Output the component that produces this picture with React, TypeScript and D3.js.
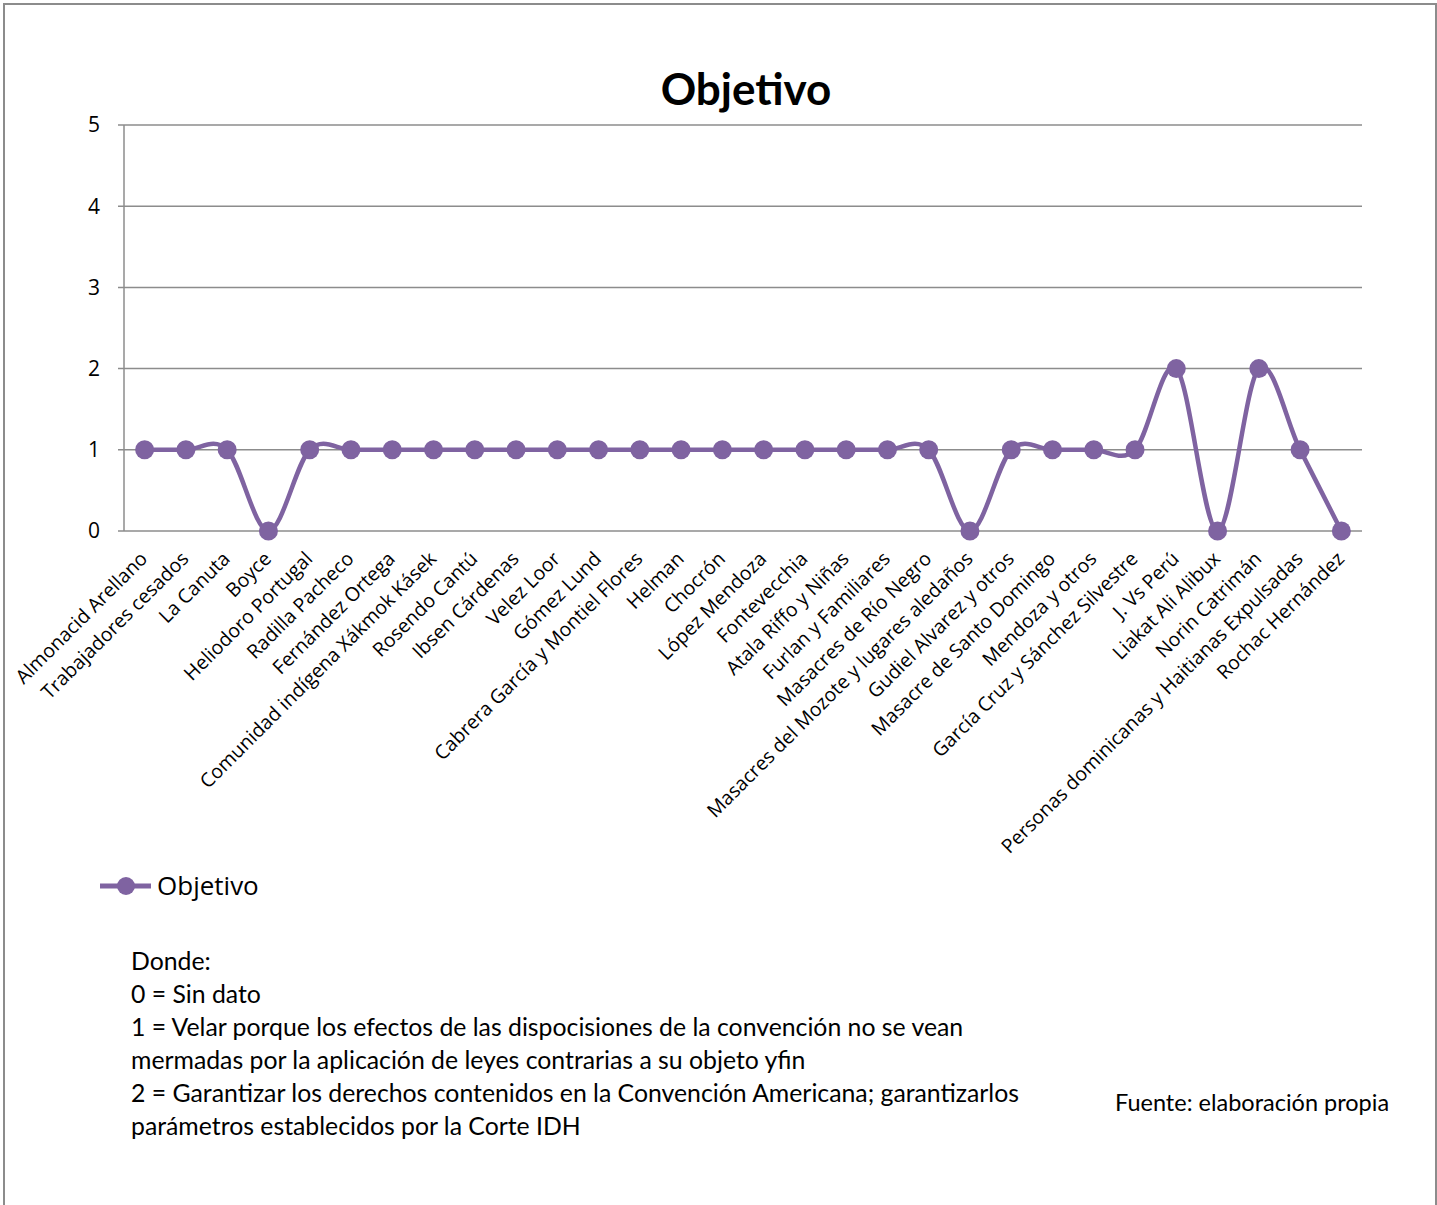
import React from "react";
import * as d3 from "d3";

const categories: string[] = [
  "Almonacid Arellano",
  "Trabajadores cesados",
  "La Canuta",
  "Boyce",
  "Heliodoro Portugal",
  "Radilla Pacheco",
  "Fernández Ortega",
  "Comunidad indígena Xákmok Kásek",
  "Rosendo Cantú",
  "Ibsen Cárdenas",
  "Velez Loor",
  "Gómez Lund",
  "Cabrera García y Montiel Flores",
  "Helman",
  "Chocrón",
  "López Mendoza",
  "Fontevecchia",
  "Atala Riffo y Niñas",
  "Furlan y Familiares",
  "Masacres de Río Negro",
  "Masacres del Mozote y lugares aledaños",
  "Gudiel Alvarez y otros",
  "Masacre de Santo Domingo",
  "Mendoza y otros",
  "García Cruz y Sánchez Silvestre",
  "J. Vs Perú",
  "Liakat Ali Alibux",
  "Norin Catrimán",
  "Personas dominicanas y Haitianas Expulsadas",
  "Rochac Hernández",
];

const objetivo: number[] = [
  1, 1, 1, 0, 1, 1, 1, 1, 1, 1, 1, 1, 1, 1, 1, 1, 1, 1, 1, 1, 0, 1, 1, 1, 1, 2, 0, 2, 1, 0,
];

const yTicks: number[] = [0, 1, 2, 3, 4, 5];

const seriesName = "Objetivo";
const title = "Objetivo";
const notes: string[] = [
  "Donde:",
  "0 = Sin dato",
  "1 = Velar porque los efectos de las dispocisiones de la convención no se vean",
  "mermadas por la aplicación de leyes contrarias a su objeto yfin",
  "2 = Garantizar los derechos contenidos en la Convención Americana; garantizarlos",
  "parámetros establecidos por la Corte IDH",
];
const source = "Fuente: elaboración propia";

const W = 1437;
const H = 1205;
const color = "#7f63a1";
const gridColor = "#8c8c8c";
const font = "'Open Sans', sans-serif";
const noteFont = "Lato, 'Open Sans', sans-serif";

export default function App() {
  const left = 124;
  const right = 1362;
  const top = 125;
  const bottom = 531;

  const x = d3.scaleBand<string>().domain(categories).range([left, right]);
  const y = d3.scaleLinear().domain([0, 5]).range([bottom, top]);
  const cx = (c: string) => (x(c) as number) + x.bandwidth() / 2;

  const pts: [number, number][] = categories.map((c, i) => [cx(c), y(objetivo[i])]);
  const line = d3.line().curve(d3.curveCardinal.tension(0))(pts) || "";

  return (
    <svg
      width={W}
      height={H}
      style={{ position: "absolute", left: 0, top: 0, background: "#fff" }}
      fontFamily={font}
    >
      <rect x={0} y={0} width={W} height={H} fill="#fff" />
      <path d={`M4,${H + 5} V4 H1436 V${H + 5}`} fill="none" stroke="#8c8c8c" strokeWidth={2} />

      <text x={746} y={105} textAnchor="middle" fontSize={44} fontWeight={700} fill="#000"
        fontFamily={noteFont}>
        {title}
      </text>

      {yTicks.map((t) => (
        <g key={t}>
          <line x1={118} x2={right} y1={y(t)} y2={y(t)} stroke={gridColor} strokeWidth={1.5} />
          <text x={100} y={y(t)} dy="0.35em" textAnchor="end" fontSize={21} fill="#000">
            {t}
          </text>
        </g>
      ))}
      <line x1={left} x2={left} y1={top} y2={bottom} stroke={gridColor} strokeWidth={1.5} />

      {categories.map((c) => (
        <text
          key={c}
          transform={`translate(${cx(c) + 4},${bottom + 29}) rotate(-45)`}
          textAnchor="end"
          fontSize={19.5}
          fill="#000"
        >
          {c}
        </text>
      ))}

      <path d={line} fill="none" stroke={color} strokeWidth={4.5} strokeLinejoin="round" />
      {pts.map((p, i) => (
        <circle key={i} cx={p[0]} cy={p[1]} r={9.5} fill={color} />
      ))}

      <line x1={100} x2={151} y1={886} y2={886} stroke={color} strokeWidth={5} />
      <circle cx={126} cy={886} r={9} fill={color} />
      <text x={157} y={886} dy="0.35em" fontSize={26} fill="#000">
        {seriesName}
      </text>

      {notes.map((n, i) => (
        <text key={i} x={131} y={970 + i * 33} fontSize={24.8} fill="#000" fontFamily={noteFont}>
          {n}
        </text>
      ))}
      <text x={1115} y={1111} fontSize={23.5} fill="#000" fontFamily={noteFont}>
        {source}
      </text>
    </svg>
  );
}
